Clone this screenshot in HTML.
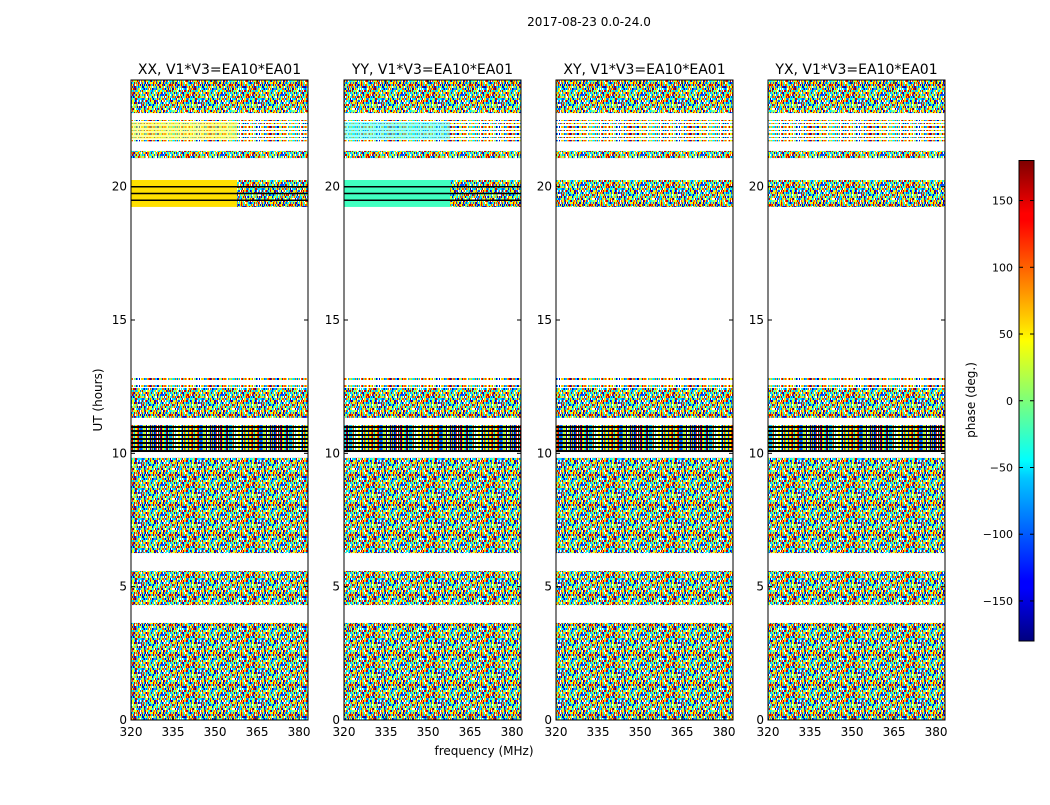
<!DOCTYPE html>
<html><head><meta charset="utf-8">
<style>
html,body{margin:0;padding:0;background:#fff;}
svg text{font-family:"DejaVu Sans","Liberation Sans",sans-serif;}
</style></head>
<body>
<svg id="fig" width="1050" height="800" viewBox="0 0 1050 800" xmlns="http://www.w3.org/2000/svg">
<defs>
<linearGradient id="jet" x1="0" y1="1" x2="0" y2="0">
<stop offset="0" stop-color="#00007f"/>
<stop offset="0.11" stop-color="#0000ff"/>
<stop offset="0.125" stop-color="#0000ff"/>
<stop offset="0.34" stop-color="#00c8ff"/>
<stop offset="0.375" stop-color="#00ffff"/>
<stop offset="0.5" stop-color="#7dff7a"/>
<stop offset="0.625" stop-color="#ffff00"/>
<stop offset="0.66" stop-color="#ffd800"/>
<stop offset="0.875" stop-color="#ff0000"/>
<stop offset="0.89" stop-color="#ff0000"/>
<stop offset="1" stop-color="#7f0000"/>
</linearGradient>
<pattern id="noise" patternUnits="userSpaceOnUse" width="60" height="30"></pattern>
<pattern id="stripe" patternUnits="userSpaceOnUse" width="60" height="7"></pattern>
<pattern id="dark" patternUnits="userSpaceOnUse" width="60" height="4"></pattern>
</defs>
<text x="589" y="26" font-size="12" text-anchor="middle">2017-08-23 0.0-24.0</text>
<g id="panels"></g>
<text x="102" y="400" font-size="12" text-anchor="middle" transform="rotate(-90 102 400)">UT (hours)</text>
<text x="484" y="755" font-size="12" text-anchor="middle">frequency (MHz)</text>
<g id="cbar"></g>
</svg>
<script>
// ---- data ----
const panelTitles = ["XX, V1*V3=EA10*EA01","YY, V1*V3=EA10*EA01","XY, V1*V3=EA10*EA01","YX, V1*V3=EA10*EA01"];
const bandStart = [0, 4.31, 6.26, 8.51, 10.05, 11.33, 12.45, 12.75, 19.24, 21.07, 21.7, 22.76];
const bandEnd   = [3.64, 5.59, 8.51, 9.83, 11.06, 12.45, 12.56, 12.86, 20.25, 21.34, 22.5, 24.0];
const bandKindXX = ["noise","noise","noise","noise","dark","noise","stripe","stripe","yellow","noise","yellowstripe","noise"];
const bandKindYY = ["noise","noise","noise","noise","dark","noise","stripe","stripe","cyan","noise","cyanstripe","noise"];
const bandKindXY = ["noise","noise","noise","noise","dark","noise","stripe","stripe","noise","noise","stripe","noise"];
const bandKindYX = ["noise","noise","noise","noise","dark","noise","stripe","stripe","noise","noise","stripe","noise"];
const xTicks = [320,335,350,365,380];
const yTicks = [0,5,10,15,20];
const cbTicks = [-150,-100,-50,0,50,100,150];

const NS="http://www.w3.org/2000/svg";
function mk(tag,attrs,parent){const e=document.createElementNS(NS,tag);for(const k in attrs)e.setAttribute(k,attrs[k]);if(parent)parent.appendChild(e);return e;}

// texture palette (visual texture only)
const pal=["#0000c8","#0050ff","#00b0ff","#20ffe0","#80ff80","#e0ff20","#ffc000","#ff5000","#d00000","#00e8ff","#ffff00","#ffffff"];
let seed=12345;function nx(){seed=(seed*1103515245+12345)%2147483648;return seed/2147483648;}
function pc(){return pal[Math.floor(nx()*12)];}
const pn=document.getElementById('noise');
for(let y=0;y<30;y+=2)for(let x=0;x<60;x+=1){mk('rect',{x:x,y:y,width:1,height:2,fill:pc()},pn);}
const ps=document.getElementById('stripe');
for(let x=0;x<60;x+=1){mk('rect',{x:x,y:0,width:1,height:2,fill:pc()},ps);mk('rect',{x:x,y:4,width:1,height:1,fill:pc()},ps);}
const pd=document.getElementById('dark');
for(let x=0;x<60;x+=1){mk('rect',{x:x,y:0,width:1,height:2,fill:pc()},pd);}
mk('rect',{x:0,y:2,width:60,height:2,fill:'#000'},pd);

const panelX=[131,344,556,768];
const W=177, pTop=80, pBot=720;
const xMin=320, xMax=383.2;
const yscale=h=>pBot-(h/24)*(pBot-pTop);
const kinds=[bandKindXX,bandKindYY,bandKindXY,bandKindYX];
const gp=document.getElementById('panels');

panelTitles.forEach((t,pi)=>{
  const x0=panelX[pi];
  const xscale=f=>x0+(f-xMin)/(xMax-xMin)*W;
  const g=mk('g',{},gp);
  
  
  const kk=kinds[pi];
  for(let i=0;i<bandStart.length;i++){
    const y1=yscale(bandEnd[i]), y2=yscale(bandStart[i]);
    const k=kk[i];
    let fill='url(#noise)';
    if(k==='dark')fill='url(#dark)';
    if(k==='stripe'||k==='yellowstripe'||k==='cyanstripe')fill='url(#stripe)';
    if(k==='yellow'){mk('rect',{x:x0,y:y1,width:W,height:y2-y1,fill:'#ffe000'},g);}
    if(k==='cyan'){mk('rect',{x:x0,y:y1,width:W,height:y2-y1,fill:'#40ffc0'},g);}
    const r=mk('rect',{x:x0,y:y1,width:W,height:y2-y1,fill:fill},g);
    if(k==='yellow'||k==='cyan'){r.setAttribute('x',x0+W*0.6);r.setAttribute('width',W*0.4);}
    if(k==='yellowstripe'){mk('rect',{x:x0,y:y1+2,width:W*0.6,height:y2-y1-4,fill:'#ffff40',opacity:0.5},g);}
    if(k==='cyanstripe'){mk('rect',{x:x0,y:y1+2,width:W*0.6,height:y2-y1-4,fill:'#40ffff',opacity:0.5},g);}
    
    
    if(k==='yellow'||k==='cyan'){
      [0.25,0.5,0.75].forEach(f=>mk('line',{x1:x0,x2:x0+W,y1:y1+(y2-y1)*f,y2:y1+(y2-y1)*f,stroke:'#000','stroke-width':1.5},g));
    }
  }
  mk('rect',{x:x0,y:pTop,width:W,height:pBot-pTop,fill:'none',stroke:'#000','stroke-width':1},g);
  const tt=mk('text',{x:x0+W/2,y:74,'font-size':14,'text-anchor':'middle'},g);tt.textContent=t;
  
  
  yTicks.forEach(v=>{const y=yscale(v);
    mk('line',{x1:x0,x2:x0+4,y1:y,y2:y,stroke:'#000'},g);
    mk('line',{x1:x0+W-4,x2:x0+W,y1:y,y2:y,stroke:'#000'},g);
    const l=mk('text',{x:x0-4,y:y+4,'font-size':12,'text-anchor':'end'},g);l.textContent=v;
    
    
  });
  xTicks.forEach(v=>{const x=xscale(v);
    mk('line',{x1:x,x2:x,y1:pBot,y2:pBot-4,stroke:'#000'},g);
    mk('line',{x1:x,x2:x,y1:pTop,y2:pTop+4,stroke:'#000'},g);
    const l=mk('text',{x:x,y:736,'font-size':12,'text-anchor':'middle'},g);l.textContent=v;
    
    
  });
});

// colorbar
const cb=document.getElementById('cbar');


const cx=1019,cw=15,cTop=160.5,cBot=641;
const cy=v=>cBot-(v+180)/360*(cBot-cTop);
mk('rect',{x:cx,y:cTop,width:cw,height:cBot-cTop,fill:'url(#jet)',stroke:'#000','stroke-width':1},cb);
cbTicks.forEach(v=>{const y=cy(v);
  mk('line',{x1:cx,x2:cx+4,y1:y,y2:y,stroke:'#000'},cb);
  mk('line',{x1:cx+cw-4,x2:cx+cw,y1:y,y2:y,stroke:'#000'},cb);
  const l=mk('text',{x:1013,y:y+4,'font-size':11,'text-anchor':'end'},cb);l.textContent=(v<0?'\u2212'+(-v):v);
  
  
});
const cl=mk('text',{x:975,y:400,'font-size':12,'text-anchor':'middle',transform:'rotate(-90 975 400)'},cb);cl.textContent='phase (deg.)';


</script>
</body></html>
